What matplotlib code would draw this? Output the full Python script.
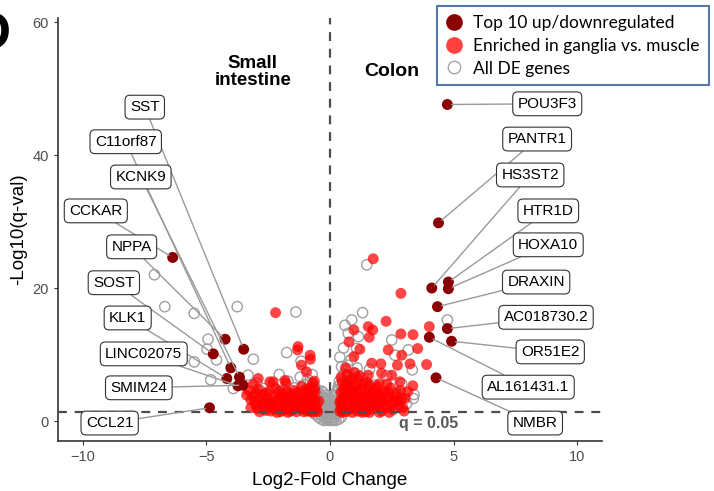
#!/usr/bin/env python
"""Volcano plot: small intestine vs colon DE genes."""
import matplotlib
matplotlib.use("Agg")
import matplotlib.pyplot as plt
from matplotlib.lines import Line2D

plt.rcParams["font.family"] = ["Liberation Sans", "DejaVu Sans"]

# all DE genes (grey open circles)
grey_x = [-0.05, -0.1, -0.12, -0.15, -0.2, -0.22, -0.25, -0.3, -0.3, -0.35, -0.38, -0.4, -0.45, -0.48,
          -0.5, -0.55, -0.6, -0.62, -0.68, -0.7, -0.72, -0.78, -0.8, -0.85, -0.9, -0.95, -1.0, -1.05,
          -1.1, -1.2, -1.25, -1.35, -1.45, -1.6, -1.7, -1.9, -2.1, -2.3, -2.6, -2.8, -3.2, -0.08, -0.18,
          -0.28, -7.10, -6.68, -5.49, -3.75, -4.93, -4.97, -5.49, -4.59, -3.10, -4.82, -1.38, -1.75,
          -2.05, -3.91, -1.17, -2.97, -2.70, -3.31, -0.72,
          -0.02, -0.04, -0.06, -0.1, -0.14, -0.16, -0.24, -0.26, -0.32, -0.34, -0.36, -0.42, -0.44,
          -0.46, -0.52, -0.56, -0.58, -0.12, -0.2,
          0.05, 0.1, 0.12, 0.15, 0.2, 0.22, 0.25, 0.3, 0.32, 0.35, 0.4, 0.42, 0.45, 0.5, 0.52, 0.55,
          0.6, 0.62, 0.65, 0.7, 0.72, 0.78, 0.8, 0.85, 0.9, 0.95, 1.0, 1.05, 1.1, 1.2, 1.3, 1.4, 1.6,
          1.8, 2.0, 2.3, 2.6, 2.9, 3.1, 3.4, 0.08, 0.18, 0.28, 1.49, 1.32, 0.61, 0.88, 1.15, 0.74,
          3.17, 2.63, 1.08, 0.47, 3.33, 3.37, 4.75, 0.55, 0.4, 2.5,
          0.02, 0.04, 0.06, 0.1, 0.14, 0.16, 0.24, 0.26, 0.3, 0.34, 0.36, 0.4, 0.44, 0.46, 0.5,
          0.38, 0.32, 0.2, 0.12]
grey_y = [0.3, 0.8, 1.5, 2.2, 0.5, 1.2, 2.8, 1.8, 3.4, 0.9, 2.5, 4.0, 1.5, 3.2,
          4.6, 2.2, 3.8, 5.2, 1.6, 2.9, 4.5, 5.8, 3.5, 2.1, 6.3, 4.8, 3.0, 5.5,
          1.8, 6.6, 4.2, 2.6, 5.0, 3.5, 6.0, 4.6, 2.3, 5.2, 3.1, 4.5, 5.0, 3.0, 3.9,
          4.3, 22.0, 17.2, 16.2, 17.2, 12.3, 10.8, 8.9, 9.2, 9.3, 6.2, 16.4, 10.3,
          7.0, 4.9, 9.0, 5.7, 4.9, 6.9, 7.0,
          1.0, 2.0, 0.1, 2.6, 0.2, 3.3, 0.1, 3.6, 2.4, 4.5, 0.3, 2.0, 3.5,
          0.6, 2.8, 4.2, 1.0, 0.7, 1.7,
          0.4, 1.0, 1.8, 2.6, 0.6, 3.3, 1.4, 4.0, 2.2, 4.8, 3.0, 5.5, 1.6, 6.2, 3.8, 7.0,
          2.5, 4.6, 7.6, 5.6, 8.4, 3.3, 6.6, 9.2, 4.4, 7.2, 2.1, 5.8, 8.0, 3.6, 6.4, 4.8, 7.8,
          5.4, 3.2, 6.8, 4.2, 5.6, 2.6, 4.0, 2.2, 3.0, 1.0, 23.5, 16.3, 14.4, 15.2, 12.7, 13.2,
          10.7, 9.9, 10.9, 8.2, 7.7, 3.4, 15.2, 11.0, 9.6, 12.2,
          1.2, 2.4, 0.1, 3.0, 0.2, 3.8, 0.1, 4.4, 2.8, 5.2, 0.3, 1.8, 4.2, 0.6, 3.4,
          6.0, 1.6, 2.0, 0.6]

# enriched in ganglia vs. muscle (red)
red_x = [-2.20, -1.29, -1.31, -0.80, -0.79, -1.15, -0.95, -0.63, -2.90, -3.10, -2.43, -1.82, -3.37,
         -2.30, -1.78,
         -3.3, -3.1, -3.0, -2.9, -2.8, -2.7, -2.6, -2.5, -2.4, -2.3, -2.2, -2.1, -2.0, -1.9, -1.85,
         -1.75, -1.65, -1.6, -1.5, -1.45, -1.4, -1.3, -1.2, -1.15, -1.1, -1.0, -0.95, -0.9, -0.85,
         -0.8, -0.75, -0.7, -0.65, -0.6, -0.55, -2.65, -2.35, -1.95, -1.55, -1.25, -3.2, -2.85, -1.7,
         -1.05, -0.7, -0.62, -2.15, -0.5, -1.35, -0.45,
         -3.2, -3.0, -2.95, -2.75, -2.75, -2.55, -2.45, -2.4, -2.25, -2.25, -2.1, -2.05, -1.95, -1.9,
         -1.8, -1.8, -1.7, -1.6, -1.5, -1.45, -1.35, -1.3, -1.2, -1.15, -1.05, -1.0, -0.95, -0.9,
         -0.85, -0.8, -0.75, -0.65, -0.6, -0.55, -2.6, -3.05, -2.0, -1.6, -1.1, -0.7,
         1.75, 2.87, 2.27, 0.97, 1.55, 1.73, 1.59, 0.77, 2.87, 3.36, 3.55, 2.36, 2.90, 1.21, 0.97,
         0.63, 1.69, 2.06, 2.73, 3.24, 3.91, 1.55, 2.09, 2.50, 2.83, 3.35, 3.15, 3.04, 4.02,
         0.4, 0.4, 0.45, 0.5, 0.55, 0.6, 0.65, 0.7, 0.75, 0.8, 0.85, 0.9, 0.95, 1.0, 1.05, 1.1, 1.15,
         1.2, 1.25, 1.3, 1.35, 1.4, 1.45, 1.5, 1.55, 1.6, 1.7, 1.75, 1.8, 1.9, 1.95, 2.0, 2.1, 2.15,
         2.2, 2.3, 2.4, 2.45, 2.55, 2.6, 2.7, 2.8, 2.9, 3.0, 0.5, 0.45, 0.7, 1.0, 1.3, 0.5, 0.9,
         1.6, 2.0, 2.4,
         0.5, 0.6, 0.65, 0.75, 0.8, 0.85, 0.95, 1.0, 1.1, 1.15, 1.25, 1.3, 1.4, 1.45, 1.55, 1.65,
         1.7, 1.8, 1.85, 2.0, 2.05, 2.2, 2.25, 2.35, 2.5, 2.6, 2.75, 2.85, 2.95, 1.05, 1.5, 0.55,
         0.7, 0.9, 1.2, 1.9, 2.3, 0.45, 0.45]
red_y = [16.3, 11.2, 10.7, 9.9, 9.3, 8.4, 7.4, 6.0, 6.4, 5.5, 5.9, 6.1, 3.9,
         5.9, 5.7,
         4.6, 3.8, 2.5, 4.8, 3.2, 1.8, 4.2, 2.7, 1.5, 3.6, 4.9, 2.2, 3.9, 1.6, 2.9,
         4.4, 2.3, 3.5, 1.7, 4.6, 2.8, 3.8, 1.9, 5.2, 3.1, 2.4, 4.3, 1.5, 3.6,
         5.0, 2.6, 4.0, 1.8, 3.1, 2.2, 3.0, 2.1, 3.3, 2.0, 2.6, 2.0, 1.4, 1.3,
         1.4, 5.7, 4.9, 1.3, 1.4, 1.4, 3.0,
         3.2, 4.2, 1.9, 2.5, 4.0, 3.5, 4.5, 2.4, 2.9, 1.8, 3.4, 4.5, 2.5, 4.2,
         1.9, 3.6, 2.8, 4.1, 3.1, 2.3, 4.2, 3.0, 2.3, 3.5, 4.6, 1.8, 3.0, 2.2,
         4.8, 1.5, 3.3, 2.5, 4.4, 1.6, 1.6, 3.0, 1.4, 1.5, 2.0, 1.3,
         24.4, 19.2, 15.0, 13.7, 14.2, 13.7, 12.6, 11.9, 13.1, 13.0, 10.9, 10.7, 9.9, 10.8, 9.7,
         8.0, 8.7, 8.6, 8.4, 8.6, 8.5, 6.9, 7.2, 6.9, 5.9, 5.3, 4.4, 3.4, 14.2,
         1.5, 2.8, 4.3, 2.0, 3.5, 5.3, 1.4, 2.7, 4.6, 6.0, 1.9, 3.4, 5.1, 2.4, 4.0, 1.5, 6.3,
         3.0, 4.8, 2.0, 5.6, 3.6, 1.4, 2.6, 4.3, 5.4, 1.8, 3.2, 4.7, 2.4, 3.8, 5.6, 1.5, 3.0,
         4.4, 2.1, 3.6, 5.0, 1.7, 2.9, 4.1, 2.3, 3.3, 1.5, 5.8, 6.6, 7.0, 7.3, 1.3, 1.3, 1.3,
         1.3, 1.3, 1.3,
         2.6, 3.9, 4.6, 1.8, 3.2, 4.2, 2.2, 3.6, 4.6, 2.6, 1.6, 3.4, 2.2, 4.4, 3.0, 2.2,
         4.2, 2.6, 3.6, 2.2, 4.2, 2.6, 3.4, 4.4, 2.4, 3.6, 3.0, 4.6, 2.0, 5.3, 5.8, 4.8,
         5.6, 6.4, 6.8, 5.2, 5.6, 2.0, 3.2]

# top 10 up/downregulated genes: point and label position
top_genes = ["SST", "C11orf87", "KCNK9", "CCKAR", "NPPA", "SOST", "KLK1", "LINC02075", "SMIM24", "CCL21",
             "POU3F3", "PANTR1", "HS3ST2", "HTR1D", "HOXA10", "DRAXIN", "AC018730.2", "OR51E2",
             "AL161431.1", "NMBR"]
top_x = [-3.49, -4.01, -3.66, -6.36, -4.24, -4.72, -4.17, -3.72, -3.52, -4.87,
         4.75, 4.39, 4.12, 4.79, 4.79, 4.35, 4.75, 4.92, 4.02, 4.29]
top_y = [10.8, 8.0, 6.6, 24.6, 12.3, 10.1, 6.4, 5.3, 5.4, 2.0,
         47.6, 29.8, 20.0, 20.9, 19.9, 17.2, 13.9, 12.0, 12.6, 6.5]
label_x = [-7.49, -8.26, -7.65, -9.47, -8.02, -8.74, -8.18, -7.53, -7.73, -8.91,
           8.79, 8.38, 8.10, 8.83, 8.83, 8.34, 8.74, 8.91, 8.02, 8.30]
label_y = [47.2, 42.0, 36.7, 31.6, 26.2, 20.8, 15.5, 10.1, 5.0, -0.3,
           47.7, 42.4, 37.0, 31.6, 26.5, 20.9, 15.6, 10.4, 5.1, -0.3]

Q_LINE = 1.30  # -log10(0.05)

fig = plt.figure(figsize=(7.14, 4.91), dpi=100)
ax = fig.add_axes([0.0812, 0.1018, 0.7618, 0.8615])

ax.scatter(grey_x, grey_y, s=55, facecolors="none", edgecolors="#A0A0A0", linewidths=1.0, zorder=2)
ax.scatter(red_x, red_y, s=62, color="#FF0000", alpha=0.72, edgecolors="none", zorder=3)
ax.scatter(top_x, top_y, s=62, color="#8B0000", edgecolors="none", zorder=5)

for name, px, py, lx, ly in zip(top_genes, top_x, top_y, label_x, label_y):
    ax.annotate(name, xy=(px, py), xytext=(lx, ly), textcoords="data",
                ha="center", va="center", fontsize=11, zorder=6,
                bbox=dict(boxstyle="round,pad=0.32", fc="white", ec="#333333", lw=0.8),
                arrowprops=dict(arrowstyle="-", color="#9A9A9A", lw=1.0, shrinkA=0, shrinkB=3))

ax.axvline(0, color="#4D4D4D", lw=1.6, dashes=(4, 3.5), zorder=1)
ax.axhline(Q_LINE, color="#4D4D4D", lw=1.6, dashes=(4, 3.5), zorder=4)
ax.text(4.0, -0.3, "q = 0.05", ha="center", va="center", fontsize=11.5, fontweight="bold", color="#595959")

ax.text(-3.12, 52.5, "Small\nintestine", ha="center", va="center", fontsize=13.5, fontweight="bold",
        linespacing=1.05)
ax.text(2.51, 52.5, "Colon", ha="center", va="center", fontsize=14, fontweight="bold")

ax.set_xlim(-11, 11)
ax.set_ylim(-3.0, 60.6)
ax.set_xticks([-10, -5, 0, 5, 10])
ax.set_yticks([0, 20, 40, 60])
ax.tick_params(labelsize=10.5, labelcolor="#4D4D4D", color="#333333", length=3)
for side in ["top", "right"]:
    ax.spines[side].set_visible(False)
for side in ["left", "bottom"]:
    ax.spines[side].set_color("#333333")
    ax.spines[side].set_linewidth(1.2)
ax.set_xlabel("Log2-Fold Change", fontsize=13.5, labelpad=6)
ax.set_ylabel("-Log10(q-val)", fontsize=13.5, labelpad=4)

handles = [
    Line2D([], [], marker="o", ls="", mfc="#8B0000", mec="#8B0000", ms=11),
    Line2D([], [], marker="o", ls="", mfc="#FF4040", mec="#FF4040", ms=11),
    Line2D([], [], marker="o", ls="", mfc="none", mec="#A6A6A6", ms=9, mew=1.0),
]
labels = ["Top 10 up/downregulated", "Enriched in ganglia vs. muscle", "All DE genes"]
leg = fig.legend(handles, labels, loc="upper left", bbox_to_anchor=(437 / 714, 1 - 6 / 491),
                 frameon=True, fancybox=False, borderaxespad=0, handlelength=1.0,
                 handletextpad=0.6, labelspacing=0.4, borderpad=0.5,
                 prop={"family": ["Lato", "DejaVu Sans"], "size": 12.5})
leg.get_frame().set_edgecolor("#2F5597")
leg.get_frame().set_linewidth(1.5)

# cropped panel letter at the left edge
fig.text(11 / 714, 1 - 35 / 491, "D", ha="right", va="center", fontsize=38, fontweight="bold")

fig.savefig("out.png", dpi=100)
